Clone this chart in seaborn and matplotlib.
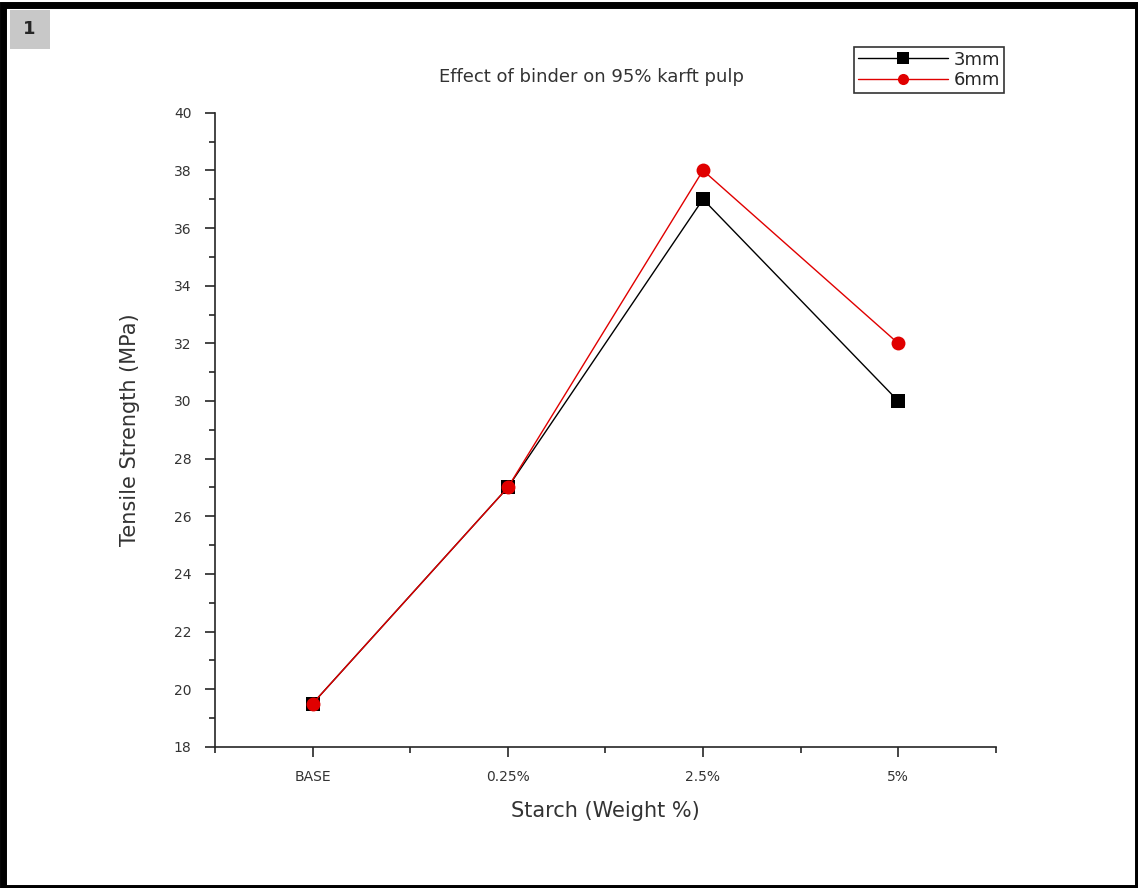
import pandas as pd
import matplotlib.pyplot as plt
import seaborn as sns
from matplotlib.patches import Rectangle
from matplotlib.lines import Line2D
from matplotlib.ticker import FixedLocator

# Data
categories = ['BASE', '0.25%', '2.5%', '5%']
strength_3mm = [19.5, 27, 37, 30]
strength_6mm = [19.5, 27, 38, 32]

df = pd.DataFrame({
    'pos': list(range(len(categories))) * 2,
    'strength': strength_3mm + strength_6mm,
    'series': ['3mm'] * len(categories) + ['6mm'] * len(categories),
})

sns.set_style('ticks')
plt.rcParams['font.family'] = ['DejaVu Sans']

fig = plt.figure(figsize=(11.38, 8.88), dpi=100)
ax = fig.add_axes([0.189, 0.159, 0.686, 0.714])

sns.lineplot(data=df, x='pos', y='strength', hue='series', style='series',
             palette={'3mm': 'black', '6mm': '#e00000'},
             markers={'3mm': 's', '6mm': 'o'}, dashes=False,
             markersize=10, markeredgewidth=0, linewidth=1,
             legend=False, ax=ax)

ax.set_xlim(-0.5, 3.5)
ax.set_ylim(18, 40)
ax.set_xticks(range(len(categories)))
ax.set_xticklabels(categories, fontsize=10)
ax.xaxis.set_minor_locator(FixedLocator([-0.5, 0.5, 1.5, 2.5, 3.5]))
ax.set_yticks(range(18, 41, 2))
ax.yaxis.set_minor_locator(FixedLocator(range(19, 40, 2)))
ax.tick_params(axis='both', which='major', length=7, width=1.2, labelsize=10,
               pad=10, labelcolor='#333333')
ax.tick_params(axis='both', which='minor', length=4, width=1.2)
for s in ['top', 'right']:
    ax.spines[s].set_visible(False)
for s in ['left', 'bottom']:
    ax.spines[s].set_linewidth(1.2)

ax.set_xlabel('Starch (Weight %)', fontsize=15, labelpad=12, color='#333333')
ax.set_ylabel('Tensile Strength (MPa)', fontsize=15, labelpad=24, color='#333333')
fig.text(0.52, 0.913, 'Effect of binder on 95% karft pulp', fontsize=13,
         ha='center', va='center', color='#333333')

handles = [
    Line2D([], [], color='black', marker='s', markersize=8, markeredgewidth=0, lw=1),
    Line2D([], [], color='#e00000', marker='o', markersize=8, markeredgewidth=0, lw=1),
]
leg = fig.legend(handles, ['3mm', '6mm'], loc='upper right',
                 bbox_to_anchor=(0.882, 0.947), fontsize=13, frameon=True,
                 fancybox=False, edgecolor='black', handlelength=5.0,
                 handletextpad=0.3, borderpad=0.2, labelspacing=0.15,
                 borderaxespad=0)
leg.get_frame().set_linewidth(1.2)

# outer frame and panel number
fig.patches.append(Rectangle((0.003, 0.0), 0.997, 0.994, transform=fig.transFigure,
                             fill=False, edgecolor='black', linewidth=5))
fig.patches.append(Rectangle((0.009, 0.945), 0.035, 0.044, transform=fig.transFigure,
                             facecolor='#c8c8c8', edgecolor='none'))
fig.text(0.026, 0.967, '1', fontsize=13, fontweight='bold', ha='center', va='center')

fig.savefig('out.png', dpi=100, facecolor='white')
